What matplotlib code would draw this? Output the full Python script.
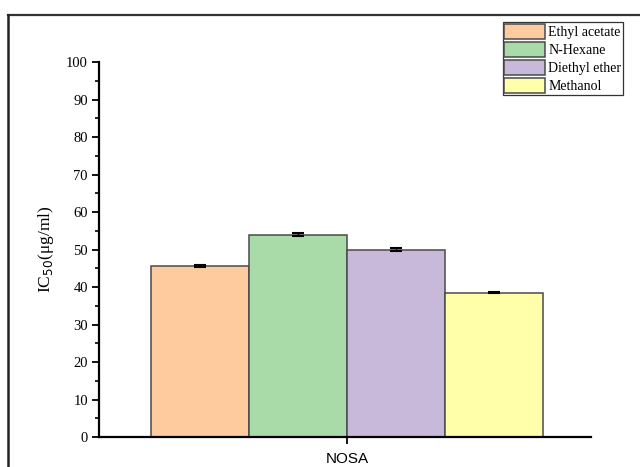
import numpy as np
import matplotlib.pyplot as plt
from matplotlib.lines import Line2D
from matplotlib.ticker import MultipleLocator

solvents = ['Ethyl acetate', 'N-Hexane', 'Diethyl ether', 'Methanol']
ic50 = [45.7, 53.9, 50.0, 38.5]
err = [0.3, 0.4, 0.3, 0.2]
colors = ['#FDCB9E', '#A8DBA8', '#C8B9DA', '#FFFFAA']

plt.rcParams['font.family'] = ['Liberation Serif', 'DejaVu Serif']

fig = plt.figure(figsize=(6.4, 4.67), dpi=100)
ax = fig.add_axes([0.1547, 0.0642, 0.7687, 0.803])

x = np.arange(len(solvents)) - 1.5
for xi, v, e, c, name in zip(x, ic50, err, colors, solvents):
    ax.bar(xi, v, width=1.0, color=c, edgecolor='#4a4a4a', linewidth=1.1,
           label=name, zorder=2)
    ax.errorbar(xi, v, yerr=e, color='black', capsize=4, capthick=1.5,
                elinewidth=1, zorder=3)

ax.set_xlim(-2.53, 2.49)
ax.set_ylim(0, 100)
ax.set_xticks([0])
ax.set_xticklabels(['NOSA'], family='Liberation Sans', fontsize=11)
ax.yaxis.set_major_locator(MultipleLocator(10))
ax.yaxis.set_minor_locator(MultipleLocator(5))
ax.tick_params(axis='y', which='major', direction='out', length=5, width=1.3,
               labelsize=10.5, pad=3)
ax.tick_params(axis='y', which='minor', direction='out', length=3, width=1.2)
ax.tick_params(axis='x', direction='out', length=5, width=1.3, pad=6)
ax.spines['top'].set_visible(False)
ax.spines['right'].set_visible(False)
ax.spines['left'].set_linewidth(1.6)
ax.spines['bottom'].set_linewidth(1.6)
ax.set_ylabel('IC$_{50}$(μg/ml)', fontsize=12.5, labelpad=7)

leg = fig.legend(loc='upper right', bbox_to_anchor=(0.973, 0.953),
                 fontsize=10, frameon=True, fancybox=False, edgecolor='black',
                 handlelength=2.9, handleheight=1.3, handletextpad=0.25,
                 borderpad=0.12, labelspacing=0.2, borderaxespad=0.0)
leg.get_frame().set_linewidth(0.9)

# outer frame lines along the top and left of the figure
fig.add_artist(Line2D([8 / 640, 1], [1 - 15 / 467, 1 - 15 / 467],
                      transform=fig.transFigure, color='#333333', linewidth=1.6))
fig.add_artist(Line2D([8 / 640, 8 / 640], [0, 1 - 15 / 467],
                      transform=fig.transFigure, color='#222222', linewidth=1.8))

fig.savefig('out.png', dpi=100)
